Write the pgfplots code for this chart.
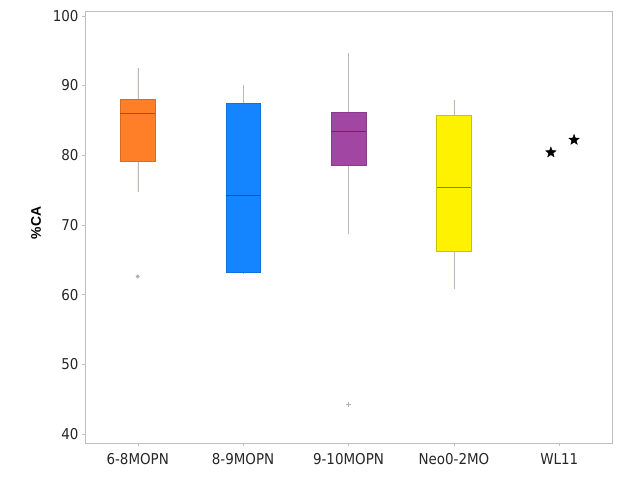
\documentclass[border=0pt]{standalone}
\usepackage{pgfplots}
\pgfplotsset{compat=1.18}
\usepgfplotslibrary{statistics}
\usepackage{fontspec}
\setmainfont{Liberation Sans}
\newfontfamily\ticksfont{DejaVu Sans Condensed}
\definecolor{cOr}{RGB}{255,127,40}
\definecolor{cBl}{RGB}{20,132,255}
\definecolor{cPu}{RGB}{162,70,164}
\definecolor{cYe}{RGB}{255,242,0}
\definecolor{axgray}{RGB}{190,190,190}
\pgfdeclareplotmark{fstar}{%
  \pgfpathmoveto{\pgfpointpolar{90}{\pgfplotmarksize}}%
  \pgfpathlineto{\pgfpointpolar{126}{0.42\pgfplotmarksize}}%
  \pgfpathlineto{\pgfpointpolar{162}{\pgfplotmarksize}}%
  \pgfpathlineto{\pgfpointpolar{198}{0.42\pgfplotmarksize}}%
  \pgfpathlineto{\pgfpointpolar{234}{\pgfplotmarksize}}%
  \pgfpathlineto{\pgfpointpolar{270}{0.42\pgfplotmarksize}}%
  \pgfpathlineto{\pgfpointpolar{306}{\pgfplotmarksize}}%
  \pgfpathlineto{\pgfpointpolar{342}{0.42\pgfplotmarksize}}%
  \pgfpathlineto{\pgfpointpolar{18}{\pgfplotmarksize}}%
  \pgfpathlineto{\pgfpointpolar{54}{0.42\pgfplotmarksize}}%
  \pgfpathclose\pgfusepathqfillstroke}
\begin{document}
\begin{tikzpicture}
\path[use as bounding box] (0,0) rectangle (633bp,477bp);
\begin{axis}[
  at={(85bp,34bp)}, anchor=south west,
  scale only axis, width=527bp, height=432bp,
  xmin=-0.5, xmax=4.5, ymin=38.7, ymax=100.7,
  xtick={0,1,2,3,4},
  xticklabels={6-8MOPN,8-9MOPN,9-10MOPN,Neo0-2MO,WL11},
  ytick={40,50,60,70,80,90,100},
  tick pos=left, tick align=outside,
  major tick length=3bp,
  every tick/.style={draw=axgray, thin},
  axis line style={draw=axgray, thin},
  /pgf/number format/assume math mode=true,
  tick label style={font=\ticksfont\fontsize{15}{17}\selectfont, text=black!85},
  xticklabel style={yshift=-4bp},
  ylabel={\bfseries\%CA},
  ylabel style={font=\fontsize{14}{16}\selectfont, at={(axis description cs:-0.093,0.509)}, anchor=center},
  boxplot/draw direction=y,
  boxplot/box extend=0.33,
  boxplot/whisker extend=0.001,
  boxplot/every whisker/.style={draw=gray!55, thin},
]
\addplot[boxplot prepared={lower whisker=74.8, lower quartile=79.1, median=86.0, upper quartile=88.05, upper whisker=92.5, draw position=0},
  /pgfplots/boxplot/every median/.style={draw=cOr!65!black, thin},
  fill=cOr, draw=cOr!85!black, mark=*, mark size=1.8pt, mark options={fill=gray!60, draw=gray!60}]
  table[row sep=\\, y index=0] {62.6\\};
\addplot[boxplot prepared={lower whisker=63.0, lower quartile=63.2, median=74.3, upper quartile=87.5, upper whisker=90.1, draw position=1},
  /pgfplots/boxplot/every median/.style={draw=cBl!65!black, thin},
  fill=cBl, draw=cBl!85!black]
  coordinates {};
\addplot[boxplot prepared={lower whisker=68.8, lower quartile=78.5, median=83.5, upper quartile=86.2, upper whisker=94.6, draw position=2},
  /pgfplots/boxplot/every median/.style={draw=cPu!60!black, thin},
  fill=cPu, draw=cPu!85!black, mark=+, mark size=2.2pt, mark options={draw=gray!60, thick}]
  table[row sep=\\, y index=0] {44.2\\};
\addplot[boxplot prepared={lower whisker=60.9, lower quartile=66.2, median=75.4, upper quartile=85.75, upper whisker=87.9, draw position=3},
  /pgfplots/boxplot/every median/.style={draw=cYe!55!black, thin},
  fill=cYe, draw=cYe!80!black]
  coordinates {};
\addplot[only marks, mark=fstar, mark size=5.5pt, mark options={fill=black, draw=black}]
  coordinates {(3.92,80.4) (4.14,82.2)};
\end{axis}
\end{tikzpicture}
\end{document}
